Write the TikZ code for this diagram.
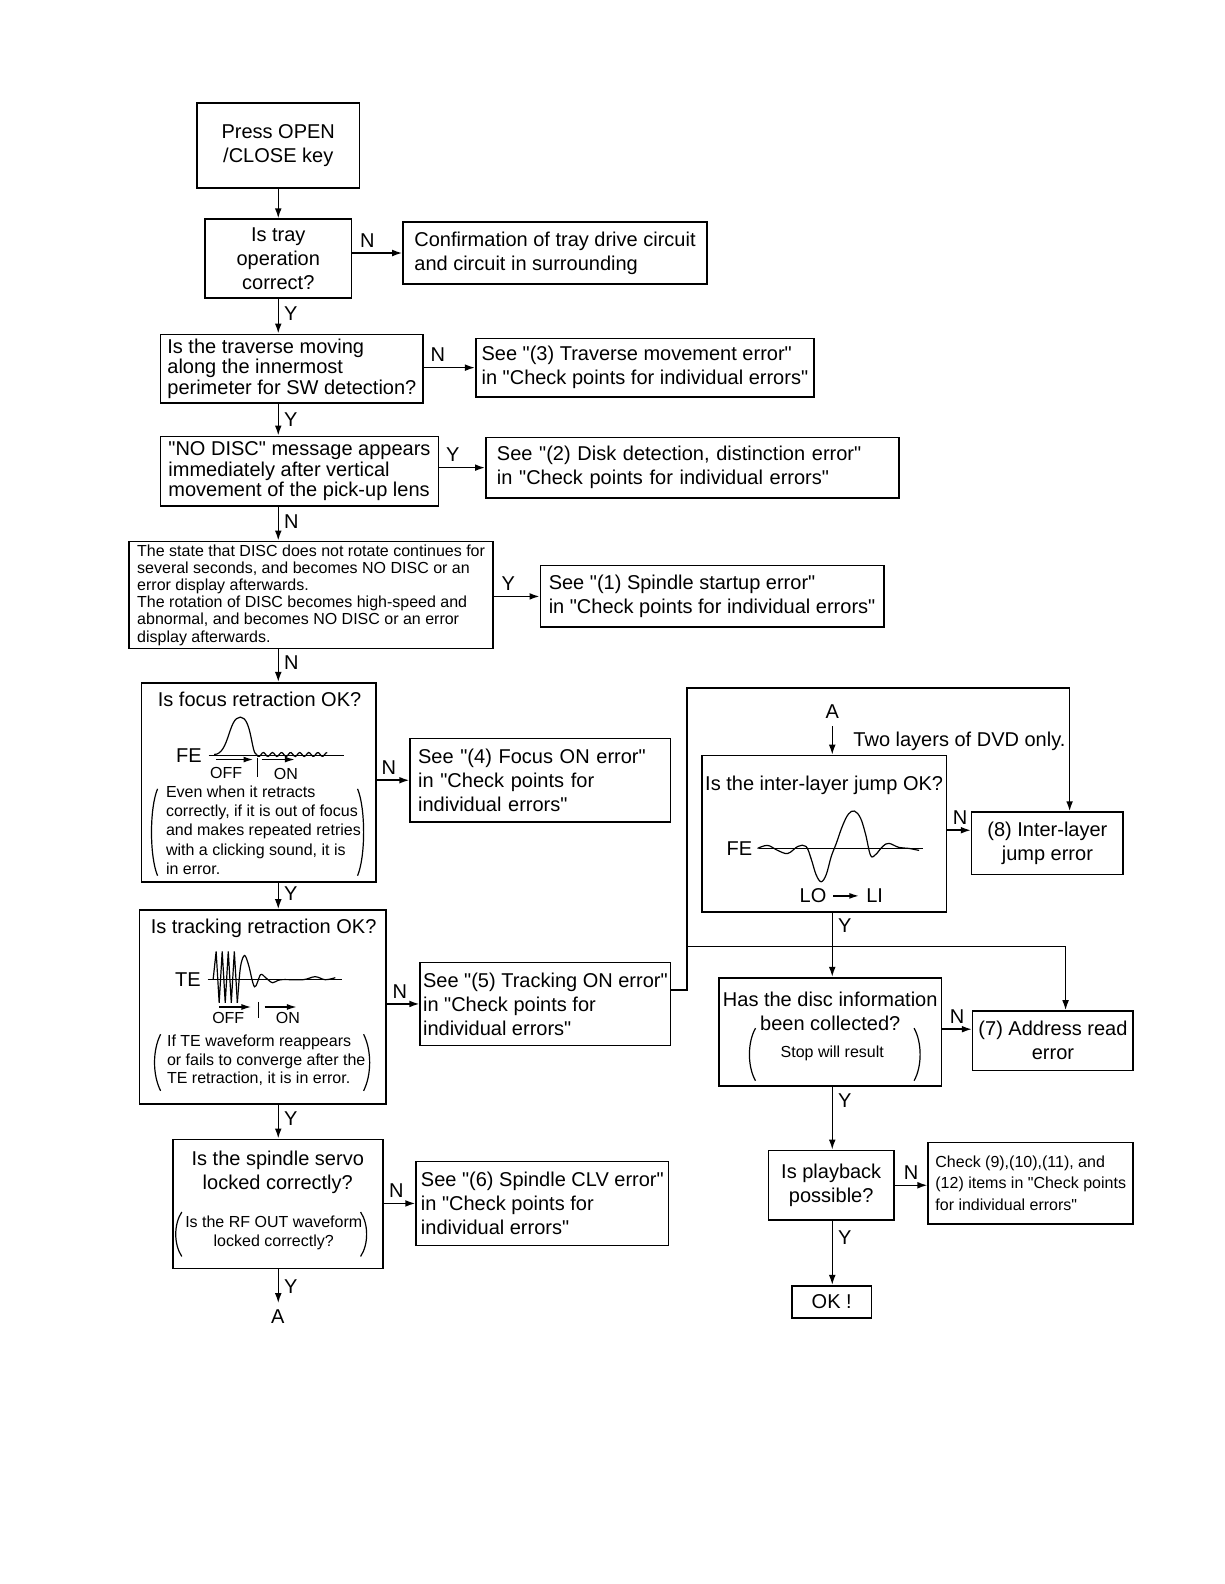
\documentclass[tikz,border=0pt]{standalone}
\usepackage{fontspec}
\setmainfont{Liberation Sans}[Ligatures=TeXOff]
\usetikzlibrary{positioning,arrows.meta,calc}
\newdimen\pxu
\pxu=0.505pt

\begin{document}
\begin{tikzpicture}[x=0.505pt, y=-0.505pt,
    font=\fontsize{10}{12}\selectfont,
    flow box/.style={rectangle, draw, line width=0.8pt, inner sep=0pt, align=center},
    left box/.style={flow box, align=left},
    tight/.style={font=\fontsize{10}{10.1}\selectfont},
    small text/.style={font=\fontsize{8}{9.6}\selectfont, align=left, inner sep=0pt},
    flow arrow/.style={-{Latex[length=5pt,width=3.4pt]}, line width=0.75pt},
    wave arrow/.style={-{Latex[length=5pt,width=3pt]}, line width=0.8pt},
    yn/.style={inner sep=2.5pt},
    wave/.style={line width=0.6pt},
    paren/.style={line width=0.6pt}]

    \useasboundingbox (0,0) rectangle (1212,1568.3);

    % left column
    \node [flow box, minimum width=161\pxu, minimum height=84\pxu] (start) at (275.5,144) {Press OPEN\\/CLOSE key};
    \node [flow box, minimum width=145\pxu, minimum height=78\pxu] (tray) at (275.5,256) {Is tray\\operation\\correct?};
    \node [left box, minimum width=301\pxu, minimum height=61\pxu] (trayerr) at (549.5,250.5) {Confirmation of tray drive circuit\\and circuit in surrounding};
    \node [left box, tight, minimum width=260\pxu, minimum height=68\pxu] (trav) at (289,365) {Is the traverse moving\\along the innermost\\perimeter for SW detection?};
    \node [left box, minimum width=335\pxu, minimum height=58\pxu] (traverr) at (638.5,364) {See "(3) Traverse movement error"\\in "Check points for individual errors"};
    \node [left box, tight, minimum width=275\pxu, minimum height=69\pxu] (nodisc) at (296.5,466.5) {"NO DISC" message appears\\immediately after vertical\\movement of the pick-up lens};
    \node [left box, text width=387\pxu, inner xsep=11\pxu, minimum height=60\pxu] (diskerr) at (685.5,463) {See "(2) Disk detection, distinction error"\\in "Check points for individual errors"};
    \node [left box, font=\fontsize{8}{8.6}\selectfont, minimum width=360\pxu, minimum height=106\pxu] (state) at (308,589) {The state that DISC does not rotate continues for\\several seconds, and becomes NO DISC or an\\error display afterwards.\\The rotation of DISC becomes high-speed and\\abnormal, and becomes NO DISC or an error\\display afterwards.};
    \node [left box, minimum width=340\pxu, minimum height=61\pxu] (spinerr) at (705,590.5) {See "(1) Spindle startup error"\\in "Check points for individual errors"};

    \node [flow box, minimum width=232\pxu, minimum height=197\pxu] (focus) at (256,774.5) {};
    \node (focusq) at (257,692) {Is focus retraction OK?};
    \node [small text, anchor=west] (focusnote) at (164,822) {Even when it retracts\\correctly, if it is out of focus\\and makes repeated retries\\with a clicking sound, it is\\in error.};
    \node [left box, text width=242\pxu, inner xsep=8\pxu, minimum height=83\pxu] (focuserr) at (535,772.5) {See "(4) Focus ON error"\\in "Check points for\\individual errors"};

    \node [flow box, minimum width=244\pxu, minimum height=192\pxu] (track) at (260,997) {};
    \node (trackq) at (261,919) {Is tracking retraction OK?};
    \node [small text, font=\fontsize{8}{9.3}\selectfont, anchor=west] (tracknote) at (165,1050) {If TE waveform reappears\\or fails to converge after the\\TE retraction, it is in error.};
    \node [left box, minimum width=248\pxu, minimum height=82\pxu] (trackerr) at (540,994) {See "(5) Tracking ON error"\\in "Check points for\\individual errors"};

    \node [flow box, minimum width=208\pxu, minimum height=128\pxu] (spindle) at (275,1192) {};
    \node [align=center] (spindleq) at (275,1161) {Is the spindle servo\\locked correctly?};
    \node [small text, align=center] (spindlenote) at (271,1221) {Is the RF OUT waveform\\locked correctly?};
    \node [left box, minimum width=250\pxu, minimum height=83\pxu] (clverr) at (537,1191.5) {See "(6) Spindle CLV error"\\in "Check points for\\individual errors"};
    \node (abot) at (275,1304) {A};

    % right column
    \node (atop) at (824,705) {A};
    \node [anchor=west] (dvdonly) at (838,734) {Two layers of DVD only.};
    \node [flow box, minimum width=242\pxu, minimum height=155\pxu] (jump) at (816,825.5) {};
    \node (jumpq) at (816,778) {Is the inter-layer jump OK?};
    \node [flow box, minimum width=150\pxu, minimum height=62\pxu] (jumperr) at (1037,835) {(8) Inter-layer\\jump error};
    \node [flow box, minimum width=220\pxu, minimum height=107\pxu] (info) at (822,1021.5) {};
    \node [align=center] (infoq) at (822,1001) {Has the disc information\\been collected?};
    \node [small text] (infonote) at (824,1043) {Stop will result};
    \node [flow box, minimum width=159\pxu, minimum height=59\pxu] (addr) at (1042.5,1030.5) {(7) Address read\\error};
    \node [flow box, minimum width=124\pxu, minimum height=69\pxu] (play) at (823,1173.5) {Is playback\\possible?};
    \node [left box, font=\fontsize{8}{10.8}\selectfont, minimum width=203\pxu, minimum height=81\pxu] (check) at (1020.5,1171.5) {Check (9),(10),(11), and\\(12) items in "Check points\\for individual errors"};
    \node [flow box, minimum width=79\pxu, minimum height=32\pxu] (ok) at (823.5,1289) {OK !};

    % focus waveform
    \node (fefocus) at (187,748) {FE};
    \node [font=\fontsize{8}{9}\selectfont] (offfocus) at (224,765) {OFF};
    \node [font=\fontsize{8}{9}\selectfont] (onfocus) at (283,766) {ON};
    \draw [wave] (fefocus.east) -- ++(134,0);
    \draw [wave] (212,747) .. controls (227,747) and (226,710) .. (238,710) .. controls (249,710) and (249,747) .. (254,747);
    \draw [wave, domain=254:324, samples=50, smooth] plot (\x, {747+2*sin(40*(\x-254))});
    \draw [wave arrow] (214,752) -- (251,752);
    \draw [wave] (255,750) -- (255,769);
    \draw [wave arrow] (259,752) -- (292,752);
    \draw [paren] (156,781) .. controls (148,800) and (148,848) .. (156,867);
    \draw [paren] (354,781) .. controls (362,800) and (362,848) .. (354,867);

    % tracking waveform
    \node (tetrack) at (186,970) {TE};
    \node [font=\fontsize{8}{9}\selectfont] (offtrack) at (226,1008) {OFF};
    \node [font=\fontsize{8}{9}\selectfont] (ontrack) at (285,1008) {ON};
    \draw [wave] (tetrack.east) -- ++(133,0);
    \draw [wave] (211,970) -- (214,942) -- (217,993) -- (220,942) -- (223,993) -- (226,942) -- (229,993) -- (232,942) -- (235,993);
    \draw [wave] plot[smooth, tension=0.55] coordinates {(235,993) (238,958) (242,946) (246,955) (252,977) (258,965) (263,968) (270,973) (278,970) (300,970) (312,967) (322,970) (332,968)};
    \draw [wave arrow] (217,997) -- (249,997);
    \draw [wave] (256,992) -- (256,1008);
    \draw [wave arrow] (262,997) -- (294,997);
    \draw [paren] (159,1024) .. controls (151,1040) and (151,1064) .. (159,1080);
    \draw [paren] (360,1024) .. controls (368,1040) and (368,1064) .. (360,1080);

    % spindle and disc info brackets
    \draw [paren] (180,1200) .. controls (172,1212) and (172,1232) .. (180,1244);
    \draw [paren] (357,1200) .. controls (365,1212) and (365,1232) .. (357,1244);
    \draw [paren] (748,1018) .. controls (740,1032) and (740,1056) .. (748,1070);
    \draw [paren] (905,1018) .. controls (913,1032) and (913,1056) .. (905,1070);

    % inter-layer jump waveform
    \node (fejump) at (732,840) {FE};
    \node (lo) at (805,887) {LO};
    \node (li) at (866,887) {LI};
    \draw [wave] (fejump.east) -- ++(162,0);
    \draw [wave] plot[smooth, tension=0.6] coordinates {(750,840) (760,837) (770,842) (780,845) (790,838) (798,838) (803,850) (808,866) (813,873) (818,866) (823,848) (828,835) (834,818) (840,806) (846,803) (852,810) (857,826) (862,847) (867,846) (874,838) (880,835) (890,839) (900,840) (910,842)};
    \draw [wave arrow] (lo) -- (li);

    % left column arrows
    \draw [flow arrow] (start) -- (tray);
    \draw [flow arrow] (tray.east |- trayerr) -- node [yn, above, pos=0.3] {N} (trayerr);
    \draw [flow arrow] (tray.south -| start) -- node [yn, right, pos=0.43] {Y} (trav.north -| start);
    \draw [flow arrow] (trav.east |- traverr) -- node [yn, above, pos=0.27] {N} (traverr);
    \draw [flow arrow] (trav.south -| start) -- node [yn, right] {Y} (nodisc.north -| start);
    \draw [flow arrow] (nodisc.east |- diskerr) -- node [yn, above, pos=0.3] {Y} (diskerr);
    \draw [flow arrow] (nodisc.south -| start) -- node [yn, right, pos=0.44] {N} (state.north -| start);
    \draw [flow arrow] (state.east |- spinerr) -- node [yn, above, pos=0.32] {Y} (spinerr);
    \draw [flow arrow] (state.south -| start) -- node [yn, right, pos=0.41] {N} (focus.north -| start);
    \draw [flow arrow] (focus.east |- focuserr) -- node [yn, above, pos=0.38] {N} (focuserr);
    \draw [flow arrow] (focus.south -| start) -- node [yn, right, pos=0.43] {Y} (track.north -| start);
    \draw [flow arrow] (track.east |- trackerr) -- node [yn, above, pos=0.4] {N} (trackerr);
    \draw [flow arrow] (track.south -| start) -- node [yn, right, pos=0.4] {Y} (spindle.north -| start);
    \draw [flow arrow] (spindle.east |- clverr) -- node [yn, above, pos=0.4] {N} (clverr);
    \draw [flow arrow] (spindle.south -| start) -- node [yn, right] {Y} (abot.north -| start);

    % loop from tracking error to the right column
    \coordinate (loopL) at (680,980);
    \coordinate (loopTop) at (1059,681);
    \coordinate (loopMid) at (1055,937);
    \draw [flow arrow] (trackerr.east |- loopL) -- (loopL) |- (loopTop) -- (jumperr.north -| loopTop);
    \draw [flow arrow] (loopL |- loopMid) -- (loopMid) -- (addr.north -| loopMid);

    % right column arrows
    \coordinate (jumpN) at (940,822);
    \coordinate (infoN) at (940,1019);
    \draw [flow arrow] (atop.south) -- (atop.south |- jump.north);
    \draw [flow arrow] (jump.east |- jumpN) -- node [yn, above, pos=0.55] {N} (jumperr.west |- jumpN);
    \draw [flow arrow] (jump.south -| atop) -- node [yn, right, pos=0.2] {Y} (info.north -| atop);
    \draw [flow arrow] (info.east |- infoN) -- node [yn, above, pos=0.5] {N} (addr.west |- infoN);
    \draw [flow arrow] (info.south -| atop) -- node [yn, right, pos=0.22] {Y} (play.north -| atop);
    \draw [flow arrow] (play.east) -- node [yn, above, pos=0.5] {N} (play.east -| check.west);
    \draw [flow arrow] (play.south -| atop) -- node [yn, right, pos=0.26] {Y} (ok.north -| atop);
\end{tikzpicture}
\end{document}
